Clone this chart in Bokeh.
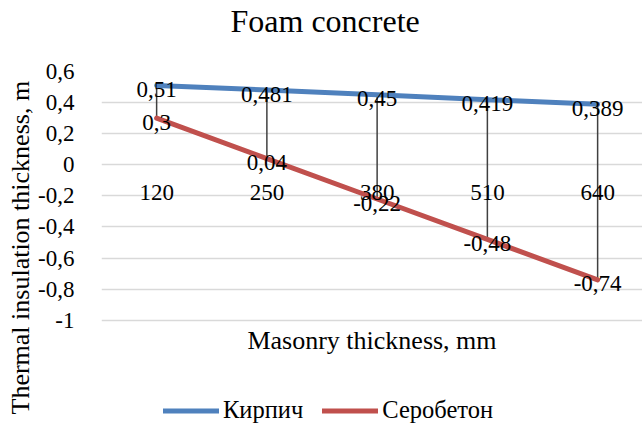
from bokeh.plotting import figure
from bokeh.models import (Range1d, FixedTicker, Title, Legend, LegendItem,
                          ColumnDataSource, LinearAxis)
from bokeh.core.properties import value
from bokeh.embed import file_html
from bokeh.resources import INLINE

# ---- data ----
categories = ["120", "250", "380", "510", "640"]
brick = [0.51, 0.481, 0.45, 0.419, 0.389]          # Кирпич
serobeton = [0.3, 0.04, -0.22, -0.48, -0.74]        # Серобетон
series_names = ["Кирпич", "Серобетон"]
y_ticks = [-1.0, -0.8, -0.6, -0.4, -0.2, 0.0, 0.2, 0.4, 0.6]
y_tick_labels = ["-1", "-0,8", "-0,6", "-0,4", "-0,2", "0", "0,2", "0,4", "0,6"]
title_text = "Foam concrete"
x_title = "Masonry thickness, mm"
y_title = "Thermal insulation thickness, m"

FONT = "Liberation Serif"
BLUE = "#4F81BD"
RED = "#C0504D"

x_idx = list(range(len(categories)))
fmt = lambda v: str(v).replace(".", ",")

# plot frame runs to the bottom of the canvas so the legend can sit inside it
p = figure(width=642, height=427,
           x_range=Range1d(-0.5, 4.407), y_range=Range1d(-1.6894, 0.6),
           output_backend="svg", toolbar_location=None,
           min_border_left=101, min_border_right=0,
           min_border_top=71, min_border_bottom=0)
p.outline_line_color = None
p.background_fill_color = "white"
p.border_fill_color = "white"

# grid
p.xgrid.grid_line_color = None
p.ygrid.ticker = FixedTicker(ticks=y_ticks)
p.ygrid.grid_line_color = "#D9D9D9"
p.ygrid.grid_line_width = 1.4

# y axis
ya = p.yaxis[0]
ya.ticker = FixedTicker(ticks=y_ticks)
ya.major_label_overrides = {t: l for t, l in zip(y_ticks, y_tick_labels)}
ya.axis_line_color = None
ya.major_tick_line_color = None
ya.minor_tick_line_color = None
ya.major_tick_out = 0
ya.major_tick_in = 0
ya.major_label_standoff = 27
ya.major_label_text_font = FONT
ya.major_label_text_font_size = "23px"
ya.major_label_text_color = "black"

# x axis (category axis crossing at 0)
xa = p.xaxis[0]
xa.ticker = FixedTicker(ticks=x_idx)
xa.major_label_overrides = {i: c for i, c in zip(x_idx, categories)}
xa.fixed_location = 0
xa.axis_line_color = None
xa.major_tick_line_color = None
xa.minor_tick_line_color = None
xa.major_tick_out = 0
xa.major_tick_in = 0
xa.major_label_standoff = 20
xa.major_label_text_font = FONT
xa.major_label_text_font_size = "23px"
xa.major_label_text_color = "black"

# axis carrying the x title, placed under the plot area (at y = -1)
xt = LinearAxis(ticker=FixedTicker(ticks=[]), fixed_location=-1,
                axis_label=x_title, axis_label_standoff=5,
                axis_label_text_font=FONT, axis_label_text_font_size="26px",
                axis_label_text_font_style="normal", axis_label_text_color="black",
                axis_line_color=None, major_tick_line_color=None,
                minor_tick_line_color=None, major_tick_out=0, major_tick_in=0,
                major_label_text_font_size="0px")
p.add_layout(xt, "below")

# title (with a blank spacer between it and the plot area)
p.title = Title(text=title_text, align="left", offset=129, standoff=0,
                text_font=FONT, text_font_size="32px",
                text_font_style="normal", text_color="black")
p.add_layout(Title(text=" ", text_font_size="1px", standoff=30), "above")

# y title
p.add_layout(Title(text=y_title, align="left", offset=13, standoff=2,
                   text_font=FONT, text_font_size="26px",
                   text_font_style="normal", text_color="black"), "left")

# high-low lines
p.segment(x0=x_idx, y0=brick, x1=x_idx, y1=serobeton,
          line_color="#404040", line_width=1.5)

# series
r1 = p.line(x_idx, brick, line_color=BLUE, line_width=5, line_cap="round", line_join="round")
r2 = p.line(x_idx, serobeton, line_color=RED, line_width=5, line_cap="round", line_join="round")

# data labels
for vals in (brick, serobeton):
    src = ColumnDataSource(dict(x=x_idx, y=vals, t=[fmt(v) for v in vals]))
    p.text(x="x", y="y", text="t", source=src, text_align="center",
           text_baseline="middle", y_offset=4,
           text_font=value(FONT), text_font_size="23px", text_color="black")

legend = Legend(items=[LegendItem(label=series_names[0], renderers=[r1]),
                       LegendItem(label=series_names[1], renderers=[r2])],
                orientation="horizontal", location=(62, 3),
                glyph_width=56, glyph_height=25, label_height=25,
                label_standoff=4, spacing=19, padding=0, margin=0,
                border_line_color=None, background_fill_alpha=0,
                label_text_font=FONT, label_text_font_size="24.5px",
                label_text_color="black")
p.add_layout(legend, "center")

open("out.html", "w").write(file_html(p, INLINE))
